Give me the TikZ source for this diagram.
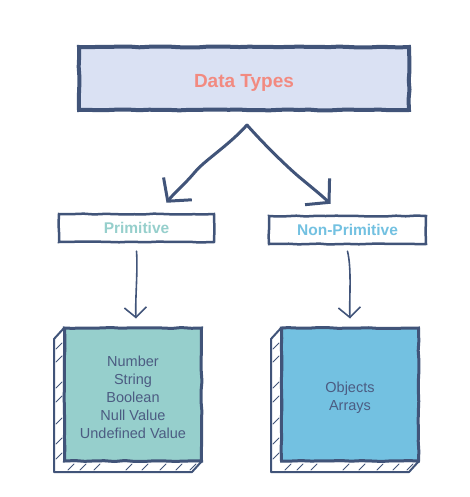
\documentclass[tikz,border=0pt]{standalone}
\usepackage{fontspec}
\setmainfont{Liberation Sans}
\usetikzlibrary{decorations.pathmorphing,arrows.meta}
\definecolor{navy}{HTML}{415479}
\definecolor{lav}{HTML}{DAE1F3}
\definecolor{salmon}{HTML}{F28A80}
\definecolor{tealf}{HTML}{96CFCC}
\definecolor{skyf}{HTML}{73C1E1}
\definecolor{txt}{HTML}{4C5C82}
\begin{document}
\begin{tikzpicture}[x=1pt,y=-1pt,
  sketch/.style={decorate,decoration={random steps,segment length=10pt,amplitude=0.5pt}},
  titlebox/.style={draw=navy,line width=4pt,fill=lav,minimum width=330pt,minimum height=63pt,inner sep=0pt,
    font=\bfseries\fontsize{19}{22}\selectfont,text=salmon,sketch},
  catbox/.style={draw=navy,line width=2.5pt,fill=white,minimum height=28pt,inner sep=0pt,
    font=\bfseries\fontsize{15.5}{18}\selectfont,sketch},
  itembox/.style={draw=navy,line width=3pt,minimum width=137pt,minimum height=133pt,inner sep=0pt,
    align=center,text=txt,font=\fontsize{14.5}{18}\selectfont,sketch},
  bigarrow/.style={draw=navy,line width=3pt,line cap=round,line join=round,
    -{Straight Barb[length=16pt,width=36pt]}},
  smallarrow/.style={draw=navy,line width=1.6pt,line cap=round,line join=round,
    -{Straight Barb[length=10pt,width=22pt]}},
  side/.style={draw=navy,line width=2pt,fill=white,line join=round},
  hatch/.style={draw=navy,line width=1pt,line cap=round}]
\useasboundingbox (0,0) rectangle (469,497);
\pgfmathsetseed{7}

% title
\node[titlebox] (dt) at (244,78.5) {\raisebox{-4pt}[\height][\depth]{Data Types}};

% categories
\node[catbox,minimum width=155pt,text=tealf] (prim) at (136.5,228) {Primitive};
\node[catbox,minimum width=157pt,text=skyf] (nonprim) at (347.5,230) {Non-Primitive};

% extruded sides of item boxes
\foreach \fx in {64,281}{
  \begin{scope}[shift={(\fx,0)}]
    \path[side] (0,328) -- (-10,339) -- (-10,472) -- (128,472) -- (138,461) -- (0,461) -- cycle;
    \foreach \yy in {345,358,384,398,420,440,455}
      \draw[hatch] (-8,\yy+4) -- (-2,\yy-2);
    \foreach \xx in {4,16,30,62,78,96,112,126}
      \draw[hatch] (\xx,470) -- (\xx+6,464);
  \end{scope}
}

% item boxes
\node[itembox,fill=tealf] (plist) at (133,394.5)
  {\raisebox{-3pt}[\height][\depth]{\parbox{130pt}{\centering Number\\String\\Boolean\\Null Value\\Undefined Value}}};
\node[itembox,fill=skyf] (nlist) at (350,394.5)
  {\raisebox{-3pt}[\height][\depth]{\parbox{130pt}{\centering Objects\\Arrays}}};

% connectors
\coordinate (apex) at (247,125);
\draw[bigarrow] (apex) .. controls (228,146) and (205,160) .. (195,172)
  .. controls (185,184) and (175,192) .. ([xshift=30pt,yshift=10pt]prim.north);
\draw[bigarrow] (apex) .. controls (262,142) and (282,162) .. (298,176)
  .. controls (310,186) and (320,194) .. ([xshift=-17pt,yshift=11pt]nonprim.north);
\draw[smallarrow] ([yshift=-8pt]prim.south) .. controls (138,270) and (135,300) .. ([xshift=3pt,yshift=8pt]plist.north);
\draw[smallarrow] ([yshift=-6pt]nonprim.south) .. controls (352,270) and (349,300) .. ([xshift=0pt,yshift=8pt]nlist.north);
\end{tikzpicture}
\end{document}
